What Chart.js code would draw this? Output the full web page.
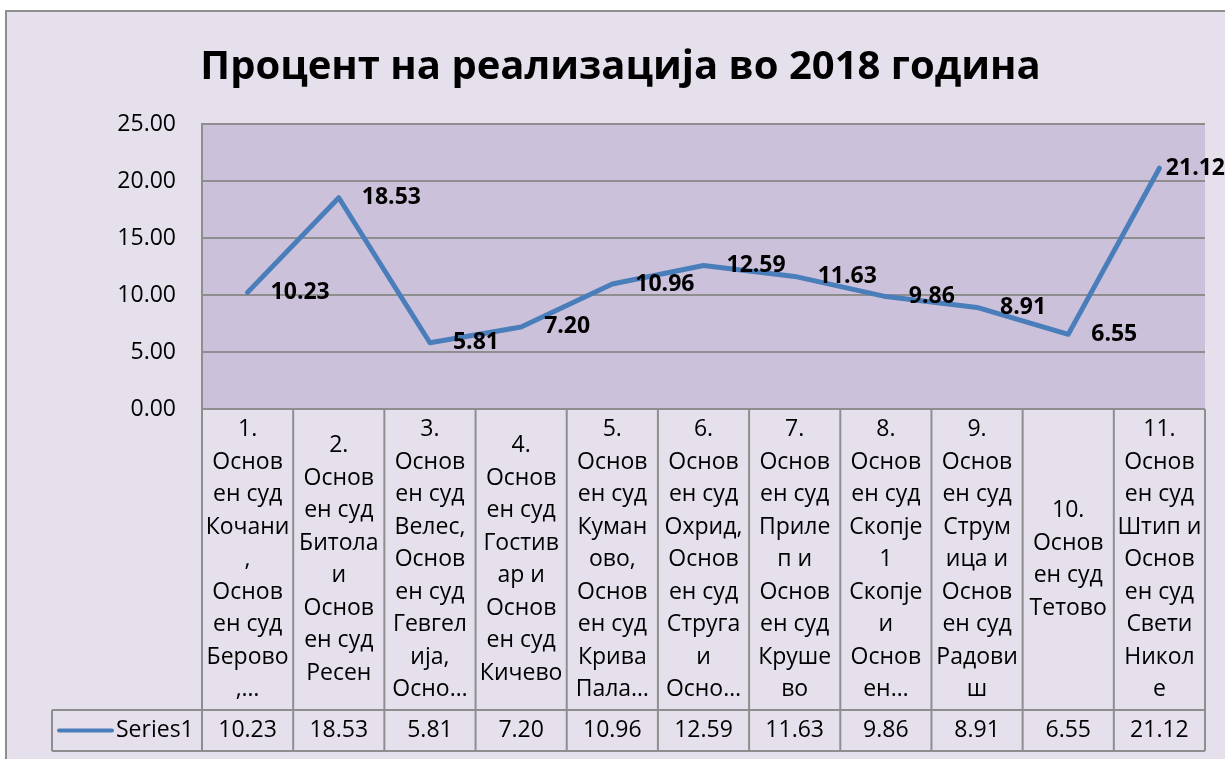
<!DOCTYPE html>
<html>
<head>
<meta charset="utf-8">
<title>Процент на реализација во 2018 година</title>
<script src="https://cdn.jsdelivr.net/npm/chart.js@4/dist/chart.umd.min.js"></script>
<style>
  html, body { margin: 0; padding: 0; background: #ffffff; }
  #wrap { width: 1225px; height: 759px; }
</style>
</head>
<body>
<div id="wrap"><canvas id="chart" width="1225" height="759"></canvas></div>
<script>
const chartTitle = 'Процент на реализација во 2018 година';
const seriesName = 'Series1';

// category labels, wrapped the same way as in the table cells
const categories = [
    ['1.', 'Основ', 'ен суд', 'Кочани', ',', 'Основ', 'ен суд', 'Берово', ',…'],
    ['2.', 'Основ', 'ен суд', 'Битола', 'и', 'Основ', 'ен суд', 'Ресен'],
    ['3.', 'Основ', 'ен суд', 'Велес,', 'Основ', 'ен суд', 'Гевгел', 'ија,', 'Осно…'],
    ['4.', 'Основ', 'ен суд', 'Гостив', 'ар и', 'Основ', 'ен суд', 'Кичево'],
    ['5.', 'Основ', 'ен суд', 'Куман', 'ово,', 'Основ', 'ен суд', 'Крива', 'Пала…'],
    ['6.', 'Основ', 'ен суд', 'Охрид,', 'Основ', 'ен суд', 'Струга', 'и', 'Осно…'],
    ['7.', 'Основ', 'ен суд', 'Приле', 'п и', 'Основ', 'ен суд', 'Круше', 'во'],
    ['8.', 'Основ', 'ен суд', 'Скопје', '1', 'Скопје', 'и', 'Основ', 'ен…'],
    ['9.', 'Основ', 'ен суд', 'Струм', 'ица и', 'Основ', 'ен суд', 'Радови', 'ш'],
    ['10.', 'Основ', 'ен суд', 'Тетово'],
    ['11.', 'Основ', 'ен суд', 'Штип и', 'Основ', 'ен суд', 'Свети', 'Никол', 'е']
];
const values = [10.23, 18.53, 5.81, 7.20, 10.96, 12.59, 11.63, 9.86, 8.91, 6.55, 21.12];
const yTicks = [0, 5, 10, 15, 20, 25];

const FONT = '"Open Sans", "Noto Sans", sans-serif';
const LINE_BLUE = '#4A7EBB';
const GRID_GREY = '#8E8E8E';

/**
 * Paints the white page, the lavender chart frame and the plot area.
 */
const chartFrame = {
    id: 'chartFrame',
    beforeDraw (chart) {
        const ctx = chart.ctx;
        const area = chart.chartArea;
        ctx.save();
        ctx.fillStyle = '#ffffff';
        ctx.fillRect(0, 0, chart.width, chart.height);
        ctx.fillStyle = '#E6E0EC';
        ctx.fillRect(6, 11, chart.width, chart.height);
        ctx.strokeStyle = GRID_GREY;
        ctx.lineWidth = 2;
        ctx.strokeRect(6, 11, chart.width + 20, chart.height + 20);
        ctx.fillStyle = '#CCC1DA';
        ctx.fillRect(area.left, area.top, area.right - area.left, area.bottom - area.top);
        ctx.restore();
    }
};

/**
 * Bold value labels to the right of each point.
 */
const pointLabels = {
    id: 'pointLabels',
    afterDatasetsDraw (chart) {
        const ctx = chart.ctx;
        const meta = chart.getDatasetMeta(0);
        ctx.save();
        ctx.font = 'bold 23px ' + FONT;
        ctx.fillStyle = '#000000';
        ctx.textAlign = 'left';
        ctx.textBaseline = 'middle';
        meta.data.forEach((pt, i) => {
            const text = values[i].toFixed(2);
            const w = ctx.measureText(text).width;
            const x = Math.min(pt.x + 23, chart.width - w);
            ctx.fillText(text, x, pt.y);
        });
        ctx.restore();
    }
};

/**
 * Excel style data table under the plot: category cells and a value row.
 */
const dataTable = {
    id: 'dataTable',
    afterDraw (chart) {
        const ctx = chart.ctx;
        const xScale = chart.scales.x;
        const area = chart.chartArea;
        const colW = (area.right - area.left) / categories.length;
        const labelBottom = 710;
        const tableBottom = 751;
        const legendLeft = 52;
        const lineH = 32.5;

        ctx.save();
        ctx.strokeStyle = GRID_GREY;
        ctx.lineWidth = 2;
        ctx.beginPath();
        ctx.moveTo(legendLeft, labelBottom);
        ctx.lineTo(area.right, labelBottom);
        ctx.moveTo(legendLeft, tableBottom);
        ctx.lineTo(area.right, tableBottom);
        ctx.moveTo(legendLeft, labelBottom);
        ctx.lineTo(legendLeft, tableBottom);
        for (let i = 0; i <= categories.length; i++) {
            const edge = xScale.getPixelForValue(i) - colW / 2;
            ctx.moveTo(edge, area.bottom);
            ctx.lineTo(edge, tableBottom);
        }
        ctx.stroke();

        ctx.fillStyle = '#000000';
        ctx.font = '23px ' + FONT;
        ctx.textAlign = 'center';
        ctx.textBaseline = 'middle';
        const cellMid = (area.bottom + labelBottom) / 2;
        categories.forEach((lines, i) => {
            const cx = xScale.getPixelForValue(i);
            const first = cellMid - (lines.length - 1) * lineH / 2;
            lines.forEach((line, j) => {
                ctx.fillText(line, cx, first + j * lineH);
            });
            ctx.fillText(values[i].toFixed(2), cx, (labelBottom + tableBottom) / 2);
        });

        // legend key in the first cell of the value row
        const rowMid = (labelBottom + tableBottom) / 2;
        ctx.strokeStyle = LINE_BLUE;
        ctx.lineWidth = 4;
        ctx.lineCap = 'round';
        ctx.beginPath();
        ctx.moveTo(59, rowMid);
        ctx.lineTo(112, rowMid);
        ctx.stroke();
        ctx.textAlign = 'left';
        ctx.fillText(seriesName, 116, rowMid);
        ctx.restore();
    }
};

new Chart(document.getElementById('chart').getContext('2d'), {
    type: 'line',
    data: {
        labels: categories,
        datasets: [{
            label: seriesName,
            data: values,
            borderColor: LINE_BLUE,
            borderWidth: 5,
            borderCapStyle: 'round',
            borderJoinStyle: 'round',
            pointRadius: 0,
            tension: 0,
            fill: false
        }]
    },
    options: {
        responsive: false,
        maintainAspectRatio: false,
        animation: false,
        devicePixelRatio: 1,
        layout: {
            padding: { top: 0, left: 36, right: 20, bottom: 350 }
        },
        plugins: {
            legend: { display: false },
            tooltip: { enabled: false },
            title: {
                display: true,
                text: chartTitle,
                color: '#000000',
                font: { family: FONT, size: 40, weight: 'bold', lineHeight: 1.2 },
                padding: { top: 44, bottom: 32 }
            }
        },
        scales: {
            x: {
                display: false,
                offset: true
            },
            y: {
                min: 0,
                max: 25,
                afterBuildTicks (scale) {
                    scale.ticks = yTicks.map(v => ({ value: v }));
                },
                afterFit (scale) {
                    scale.width = 166;
                },
                ticks: {
                    color: '#000000',
                    padding: 26,
                    font: { family: FONT, size: 23 },
                    callback: v => Number(v).toFixed(2)
                },
                grid: { color: GRID_GREY, lineWidth: 2, drawTicks: false },
                border: { color: GRID_GREY, width: 2 }
            }
        }
    },
    plugins: [chartFrame, pointLabels, dataTable]
});
</script>
</body>
</html>
